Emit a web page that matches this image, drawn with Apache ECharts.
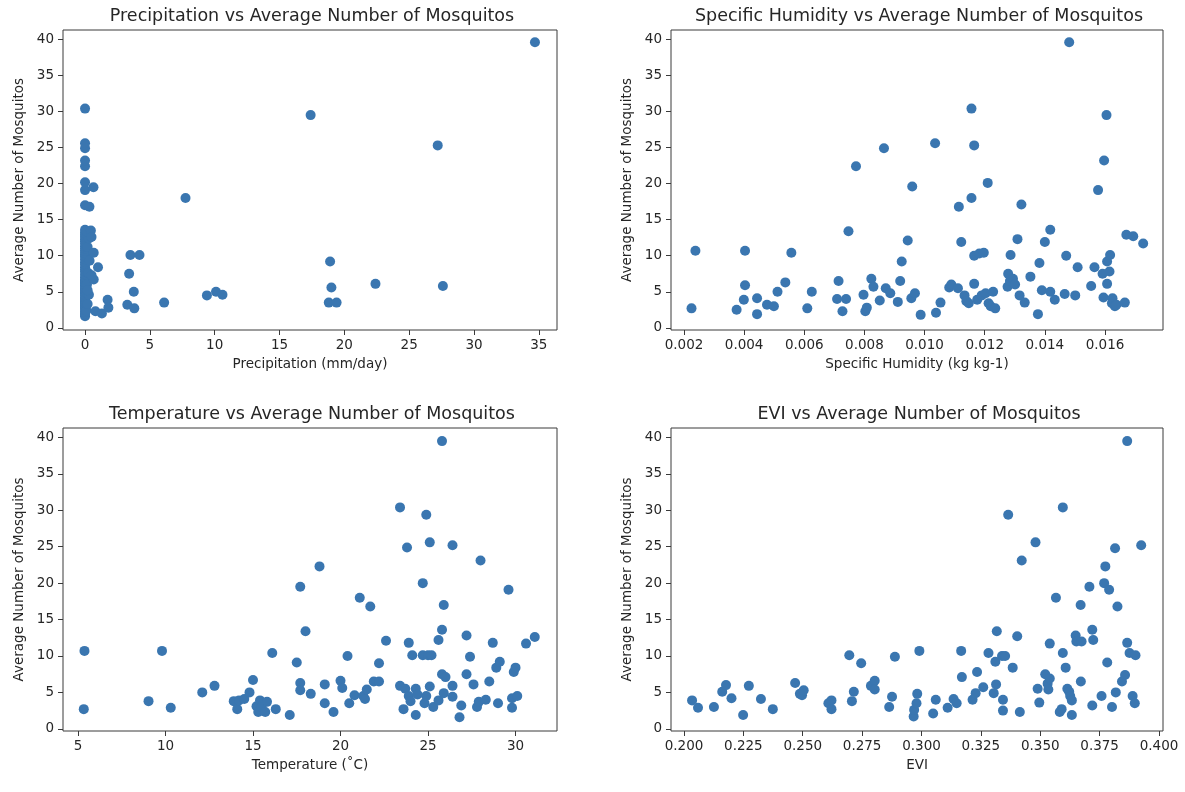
<!DOCTYPE html>
<html>
<head>
<meta charset="utf-8">
<script src="https://cdn.jsdelivr.net/npm/echarts@6/dist/echarts.min.js"></script>
<style>
html,body{margin:0;padding:0;background:#fff;}
#c{width:1185px;height:792px;}
</style>
</head>
<body>
<div id="c"></div>
<script>
// ---------- data ----------
const yTicks = [0, 5, 10, 15, 20, 25, 30, 35, 40];
const precipTicks = [0, 5, 10, 15, 20, 25, 30, 35];
const humidTicks = [0.002, 0.004, 0.006, 0.008, 0.010, 0.012, 0.014, 0.016];
const tempTicks = [5, 10, 15, 20, 25, 30];
const eviTicks = [0.200, 0.225, 0.250, 0.275, 0.300, 0.325, 0.350, 0.375, 0.400];

const precipX = [
  0,0,0,0,0,0,0,0,0,0,0,0,0,0,0,0,0,0,0,0,0,0,0,0,0,0,0,0,0,0,0,0,0,0,0,0,0,0,0,0,0,0,0,0,0,0,0,0,
  0,0,0,0,0,0,0,0,
  0.1,0.2,0.3,0.15,0.25,0.35,0.2,0.3,0.1,0.2,
  0.65,0.34,0.45,0.5,0.67,1.0,0.67,0.5,0.8,1.3,1.74,1.8,
  3.26,3.4,3.5,4.2,3.76,3.8,6.1,9.4,10.1,10.6,7.75,17.4,18.9,19.0,18.8,19.4,22.4,27.2,27.6,34.7
];
const precipY = [
  1.6,1.8,2.0,2.2,2.5,2.7,2.9,3.0,3.2,3.4,3.5,3.7,3.9,4.0,4.2,4.5,4.7,4.9,5.1,5.3,5.5,5.7,5.9,6.1,6.3,6.5,6.7,7.0,7.4,7.8,8.1,8.4,8.8,9.1,9.5,9.9,10.1,10.4,10.7,11.0,11.3,11.7,12.0,12.3,12.6,12.9,13.2,13.6,
  17.0,19.1,20.2,22.4,23.2,24.9,25.6,30.4,
  2.4,3.3,4.6,6.0,7.6,9.3,11.2,12.4,13.4,5.2,
  19.5,16.8,13.5,12.6,10.4,8.4,6.7,7.3,2.3,2.0,3.9,2.8,
  3.2,7.5,10.1,10.1,5.0,2.7,3.5,4.5,5.0,4.6,18.0,29.5,9.2,5.6,3.5,3.5,6.1,25.3,5.8,39.6
];

const humidX = [
  0.00225,0.00238,0.00375,0.00399,0.00403,0.00403,0.00443,0.00443,0.00476,0.00499,
  0.00511,0.00537,0.00557,0.0061,0.00625,0.00709,0.00714,0.00727,0.00739,0.00747,
  0.00772,0.00797,0.00803,0.00808,0.00823,0.0083,0.00851,0.00865,0.00871,0.00886,
  0.00911,0.00919,0.00924,0.00944,0.00956,0.00959,0.00968,0.00987,0.01035,0.01038,
  0.01053,0.01082,0.01089,0.01111,0.01114,0.01122,0.01133,0.01139,0.01147,0.01156,
  0.01156,0.01165,0.01165,0.01165,0.01175,0.01182,0.0119,0.01197,0.01203,0.0121,
  0.01213,0.0122,0.01228,0.01235,0.01278,0.01276,0.01284,0.01286,0.01294,0.01301,
  0.01309,0.01316,0.01322,0.01333,0.01352,0.01377,0.01382,0.0139,0.014,0.01418,
  0.01418,0.01433,0.01466,0.01471,0.01481,0.01501,0.01509,0.01554,0.01565,0.01577,
  0.01592,0.01595,0.01597,0.01605,0.01607,0.01607,0.01615,0.01617,0.01623,0.01625,
  0.01633,0.01638,0.01666,0.01671,0.01694,0.01727
];
const humidY = [
  2.7,10.7,2.5,3.9,5.9,10.7,4.1,1.9,3.2,3.0,
  5.0,6.3,10.4,2.7,5.0,4.0,6.5,2.3,4.0,13.4,
  22.4,4.6,2.3,2.8,6.8,5.7,3.8,24.9,5.5,4.8,
  3.6,6.5,9.2,12.1,4.1,19.6,4.8,1.8,25.6,2.1,
  3.5,5.6,6.0,5.5,16.8,11.9,4.5,3.7,3.4,30.4,
  18.0,25.3,10.0,6.1,3.9,10.3,4.5,10.4,4.8,20.1,
  3.4,3.0,5.0,2.7,7.5,5.7,6.5,10.1,6.8,6.0,
  12.3,4.5,17.1,3.5,7.1,1.9,9.0,5.2,11.9,13.6,
  5.0,3.9,4.7,10.0,39.6,4.5,8.4,5.8,8.4,19.1,
  7.5,4.2,23.2,29.5,9.2,6.1,7.8,10.1,3.4,4.1,
  3.0,3.2,3.5,12.9,12.7,11.7
];

const tempX = [
  5.37,5.33,9.8,9.03,10.3,12.1,12.8,13.9,14.1,14.2,
  14.5,14.8,15.0,15.2,15.3,15.4,15.5,15.7,15.8,16.1,
  16.3,17.1,17.5,17.7,17.7,17.7,18.0,18.3,18.8,19.1,
  19.1,19.6,20.0,20.1,20.4,20.5,20.8,21.1,21.3,21.4,
  21.5,21.7,21.9,22.2,22.2,22.6,23.4,23.4,23.6,23.8,
  23.7,23.9,23.9,24.0,24.1,24.3,24.3,24.4,24.7,24.7,
  24.8,24.9,24.9,25.0,25.1,25.1,25.2,25.3,25.6,25.6,
  25.8,25.8,25.8,25.9,25.9,26.0,26.4,26.4,26.4,26.8,
  26.9,27.2,27.2,27.4,27.6,27.8,27.9,28.0,28.3,28.5,
  28.7,28.9,29.0,29.1,29.6,29.8,29.8,29.9,30.0,30.1,
  30.6,31.1
];
const tempY = [
  10.7,2.7,10.7,3.8,2.9,5.0,5.9,3.8,2.7,3.9,
  4.1,5.0,6.7,3.1,2.3,3.9,3.0,2.3,3.7,10.4,
  2.7,1.9,9.1,19.5,6.3,5.3,13.4,4.8,22.3,6.1,
  3.5,2.3,6.6,5.6,10.0,3.5,4.6,18.0,4.5,4.1,
  5.4,16.8,6.5,6.5,9.0,12.1,30.4,5.9,2.7,24.9,
  5.5,11.8,4.5,3.8,10.1,1.9,5.5,4.7,20.0,10.1,
  3.5,4.5,29.4,10.1,5.8,25.6,10.1,3.0,3.9,12.2,
  13.6,39.5,7.5,17.0,4.9,7.1,25.2,4.4,5.9,1.6,
  3.2,12.8,7.5,9.9,6.1,3.0,3.7,23.1,4.0,6.5,
  11.8,8.4,3.5,9.2,19.1,2.9,4.2,7.8,8.4,4.5,
  11.7,12.6
];

const eviX = [
  0.2034,0.2059,0.2126,0.2161,0.2177,0.2200,0.2249,0.2273,0.2324,0.2374,
  0.2468,0.2488,0.2497,0.2504,0.2608,0.2621,0.2621,0.2696,0.2707,0.2715,
  0.2746,0.2787,0.2803,0.2803,0.2864,0.2876,0.2888,0.2967,0.2969,0.2979,
  0.2982,0.2991,0.3049,0.3060,0.3110,0.3135,0.3148,0.3167,0.3170,0.3215,
  0.3228,0.3234,0.3260,0.3282,0.3304,0.3311,0.3314,0.3317,0.3339,0.3343,
  0.3343,0.3352,0.3365,0.3384,0.3403,0.3414,0.3422,0.3480,0.3489,0.3496,
  0.3521,0.3531,0.3534,0.3540,0.3540,0.3566,0.3582,0.3590,0.3595,0.3595,
  0.3607,0.3614,0.3622,0.3626,0.3633,0.3633,0.3649,0.3652,0.3670,0.3671,
  0.3674,0.3719,0.3723,0.3719,0.3707,0.3758,0.3769,0.3774,0.3782,0.3790,
  0.3802,0.3815,0.3818,0.3825,0.3844,0.3857,0.3866,0.3866,0.3876,0.3889,
  0.3898,0.3901,0.3925
];
const eviY = [
  3.9,2.9,3.0,5.1,6.0,4.2,1.9,5.9,4.1,2.7,
  6.3,4.8,4.6,5.3,3.5,3.9,2.7,10.1,3.8,5.1,
  9.0,5.9,6.6,5.4,3.0,4.4,9.9,1.7,2.6,3.5,
  4.8,10.7,2.1,4.0,2.9,4.1,3.5,10.7,7.1,4.0,
  4.9,7.8,5.7,10.4,4.9,9.2,6.1,13.4,10.0,4.0,
  2.5,10.0,29.4,8.4,12.7,2.3,23.1,25.6,5.5,3.6,
  7.5,6.2,5.4,6.9,11.7,18.0,2.3,2.7,30.4,10.4,
  8.4,5.5,5.1,4.5,1.9,3.9,12.8,12.0,17.0,6.5,
  12.0,13.6,12.2,3.2,19.5,4.5,20.0,22.3,9.1,19.1,
  3.0,24.8,5.0,16.8,6.5,7.4,11.8,39.5,10.4,4.5,
  3.5,10.1,25.2
];

// ---------- chart ----------
const zip = (xs, ys) => xs.map((x, i) => [x, ys[i]]);
const TEXT = '#262626';
const AXIS = '#3a3a3a';
const DOT = '#3a76b0';
const FONT = 'DejaVu Sans';
const TICKFS = 13.5;

const panels = [
  {title: 'Precipitation vs Average Number of Mosquitos', xname: 'Precipitation (mm/day)',
   left: 63, top: 30, width: 494, height: 300, xmin: -1.7, xmax: 36.4, ticks: precipTicks,
   fmt: v => String(v), data: zip(precipX, precipY)},
  {title: 'Specific Humidity vs Average Number of Mosquitos', xname: 'Specific Humidity (kg kg-1)',
   left: 671, top: 30, width: 492, height: 300, xmin: 0.001568, xmax: 0.017929, ticks: humidTicks,
   fmt: v => v.toFixed(3), data: zip(humidX, humidY)},
  {title: 'Temperature vs Average Number of Mosquitos', xname: 'Temperature (˚C)',
   left: 63, top: 428, width: 494, height: 303, xmin: 4.143, xmax: 32.37, ticks: tempTicks,
   fmt: v => String(v), data: zip(tempX, tempY)},
  {title: 'EVI vs Average Number of Mosquitos', xname: 'EVI',
   left: 671, top: 428, width: 492, height: 303, xmin: 0.19453, xmax: 0.40168, ticks: eviTicks,
   fmt: v => v.toFixed(3), data: zip(eviX, eviY)}
];

const option = {
  backgroundColor: '#ffffff',
  animation: false,
  title: panels.map(p => ({
    text: p.title, left: p.left + p.width / 2 - 3, top: p.top - 28, textAlign: 'center',
    textStyle: {fontFamily: FONT, fontSize: 17.5, fontWeight: 'normal', color: TEXT}
  })),
  grid: panels.map(p => ({
    left: p.left, top: p.top, width: p.width, height: p.height,
    show: true, borderColor: AXIS, borderWidth: 1, backgroundColor: 'transparent'
  })),
  xAxis: panels.map((p, i) => ({
    type: 'value', gridIndex: i, min: p.xmin, max: p.xmax,
    name: p.xname, nameLocation: 'middle', nameGap: 27,
    nameTextStyle: {fontFamily: FONT, fontSize: TICKFS, color: TEXT},
    axisLine: {show: false, onZero: false},
    axisTick: {show: true, length: 5, inside: false, customValues: p.ticks, lineStyle: {color: AXIS}},
    axisLabel: {show: true, customValues: p.ticks, formatter: p.fmt, margin: 8,
      fontFamily: FONT, fontSize: TICKFS, color: TEXT},
    splitLine: {show: false}
  })),
  yAxis: panels.map((p, i) => ({
    type: 'value', gridIndex: i, min: -0.3, max: 41.3,
    name: 'Average Number of Mosquitos', nameLocation: 'middle', nameGap: 37,
    nameTextStyle: {fontFamily: FONT, fontSize: TICKFS, color: TEXT},
    axisLine: {show: false, onZero: false},
    axisTick: {show: true, length: 5, inside: false, customValues: yTicks, lineStyle: {color: AXIS}},
    axisLabel: {show: true, customValues: yTicks, margin: 9,
      fontFamily: FONT, fontSize: TICKFS, color: TEXT},
    splitLine: {show: false}
  })),
  series: panels.map((p, i) => ({
    type: 'scatter', xAxisIndex: i, yAxisIndex: i, data: p.data,
    symbol: 'circle', symbolSize: 10, itemStyle: {color: DOT, opacity: 1}
  }))
};

const chart = echarts.init(document.getElementById('c'), null, {renderer: 'canvas'});
chart.setOption(option);
</script>
</body>
</html>
